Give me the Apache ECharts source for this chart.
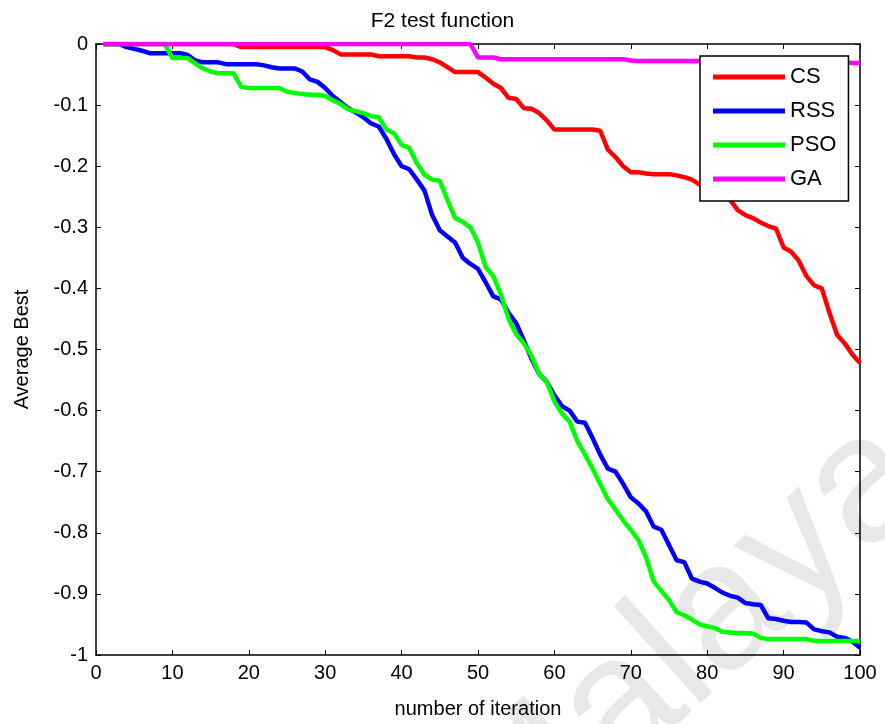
<!DOCTYPE html>
<html>
<head>
<meta charset="utf-8">
<script src="https://cdn.jsdelivr.net/npm/echarts@6/dist/echarts.min.js"></script>
<style>html,body{margin:0;padding:0;background:#fff;}#c{width:885px;height:724px;}</style>
</head>
<body>
<div id="c"></div>
<script>
const iterations = Array.from({length: 100}, (_, i) => i + 1);
const seriesNames = ['CS', 'RSS', 'PSO', 'GA'];
const xTicks = [0,10,20,30,40,50,60,70,80,90,100];
const yTicks = [0,-0.1,-0.2,-0.3,-0.4,-0.5,-0.6,-0.7,-0.8,-0.9,-1];

const csValues = [
0,0,0,0,0,0,0,0,0,0,
0,0,0,0,0,0,0,0,-0.005,-0.005,
-0.005,-0.005,-0.005,-0.005,-0.005,-0.005,-0.005,-0.005,-0.005,-0.005,
-0.01,-0.017,-0.017,-0.017,-0.017,-0.017,-0.02,-0.02,-0.02,-0.02,
-0.02,-0.022,-0.022,-0.025,-0.03,-0.038,-0.046,-0.046,-0.046,-0.046,
-0.055,-0.065,-0.072,-0.088,-0.09,-0.105,-0.106,-0.113,-0.125,-0.14,
-0.14,-0.14,-0.14,-0.14,-0.14,-0.142,-0.173,-0.185,-0.2,-0.21,
-0.21,-0.212,-0.213,-0.213,-0.213,-0.215,-0.218,-0.222,-0.23,-0.235,
-0.24,-0.245,-0.255,-0.272,-0.28,-0.285,-0.292,-0.298,-0.302,-0.333,
-0.34,-0.355,-0.38,-0.395,-0.4,-0.44,-0.476,-0.49,-0.508,-0.522
];
const rssValues = [
0,0,0,-0.005,-0.008,-0.011,-0.015,-0.015,-0.015,-0.015,
-0.015,-0.018,-0.027,-0.03,-0.03,-0.03,-0.033,-0.033,-0.033,-0.033,
-0.033,-0.035,-0.038,-0.04,-0.04,-0.04,-0.045,-0.058,-0.062,-0.072,
-0.085,-0.095,-0.105,-0.112,-0.12,-0.13,-0.135,-0.155,-0.18,-0.2,
-0.205,-0.222,-0.24,-0.28,-0.305,-0.315,-0.325,-0.35,-0.36,-0.368,
-0.39,-0.413,-0.418,-0.44,-0.457,-0.485,-0.515,-0.54,-0.553,-0.575,
-0.593,-0.6,-0.618,-0.62,-0.645,-0.672,-0.695,-0.7,-0.72,-0.742,
-0.752,-0.765,-0.79,-0.795,-0.82,-0.845,-0.848,-0.875,-0.88,-0.883,
-0.89,-0.898,-0.903,-0.906,-0.915,-0.917,-0.918,-0.94,-0.941,-0.944,
-0.946,-0.946,-0.947,-0.958,-0.961,-0.963,-0.97,-0.972,-0.978,-0.988
];
const psoValues = [
0,0,0,0,0,0,0,0,0,-0.023,
-0.023,-0.023,-0.032,-0.04,-0.045,-0.048,-0.048,-0.048,-0.07,-0.072,
-0.072,-0.072,-0.072,-0.072,-0.078,-0.08,-0.082,-0.083,-0.083,-0.085,
-0.092,-0.098,-0.107,-0.11,-0.113,-0.118,-0.12,-0.14,-0.146,-0.165,
-0.17,-0.195,-0.214,-0.222,-0.224,-0.255,-0.285,-0.291,-0.3,-0.325,
-0.365,-0.38,-0.41,-0.45,-0.475,-0.49,-0.51,-0.54,-0.553,-0.585,
-0.605,-0.618,-0.65,-0.672,-0.695,-0.72,-0.745,-0.762,-0.78,-0.795,
-0.812,-0.84,-0.88,-0.895,-0.91,-0.93,-0.935,-0.942,-0.95,-0.953,
-0.956,-0.962,-0.963,-0.964,-0.964,-0.965,-0.972,-0.974,-0.974,-0.974,
-0.974,-0.974,-0.974,-0.977,-0.977,-0.977,-0.977,-0.977,-0.977,-0.977
];
const gaValues = [
0,0,0,0,0,0,0,0,0,0,
0,0,0,0,0,0,0,0,0,0,
0,0,0,0,0,0,0,0,0,0,
0,0,0,0,0,0,0,0,0,0,
0,0,0,0,0,0,0,0,0,-0.022,
-0.022,-0.022,-0.025,-0.025,-0.025,-0.025,-0.025,-0.025,-0.025,-0.025,
-0.025,-0.025,-0.025,-0.025,-0.025,-0.025,-0.025,-0.025,-0.025,-0.027,
-0.028,-0.028,-0.028,-0.028,-0.028,-0.028,-0.028,-0.028,-0.028,-0.028,
-0.028,-0.028,-0.028,-0.028,-0.028,-0.028,-0.028,-0.028,-0.03,-0.03,
-0.03,-0.03,-0.03,-0.03,-0.03,-0.03,-0.03,-0.03,-0.031,-0.031
];
const colors = ['#ff0000', '#0000ff', '#00ff00', '#ff00ff'];
const allValues = [csValues, rssValues, psoValues, gaValues];

const FONT = '"Liberation Sans", Arial, sans-serif';
const chart = echarts.init(document.getElementById('c'), null, {renderer: 'canvas'});

const series = seriesNames.map((name, k) => ({
  name: name,
  type: 'line',
  xAxisIndex: 0, yAxisIndex: 0,
  data: iterations.map((it, i) => [it, allValues[k][i]]),
  showSymbol: false,
  symbol: 'none',
  lineStyle: {color: colors[k], width: 4.5},
  itemStyle: {color: colors[k]},
  animation: false,
  z: 3 + k
}));

const axisCommon = {min: 0, max: 100, interval: 10};

const WM = 180;
const wmAngle = 42 * Math.PI / 180;

chart.setOption({
  animation: false,
  backgroundColor: '#ffffff',
  title: {
    text: 'F2 test function',
    left: 'center', top: 6,
    textStyle: {fontFamily: FONT, fontSize: 21, fontWeight: 'normal', color: '#000'}
  },
  grid: {left: 96, right: 25, top: 44, bottom: 69, containLabel: false},
  legend: {
    data: seriesNames,
    orient: 'vertical',
    left: 700, top: 56,
    padding: [10, 12, 11, 13],
    itemGap: 12,
    itemWidth: 72, itemHeight: 5,
    itemTextGap: 10,
    icon: 'rect',
    borderColor: '#000', borderWidth: 1.5,
    backgroundColor: '#fff',
    textStyle: {fontFamily: FONT, fontSize: 22, color: '#000'},
    z: 20
  },
  xAxis: [
    {
      type: 'value', ...axisCommon,
      position: 'bottom',
      name: 'number of iteration', nameLocation: 'middle', nameGap: 44,
      nameTextStyle: {fontFamily: FONT, fontSize: 20, color: '#000'},
      axisLine: {onZero: false, lineStyle: {color: '#000', width: 1.5}},
      axisTick: {inside: true, length: 5, lineStyle: {color: '#000'}},
      axisLabel: {fontFamily: FONT, fontSize: 20, color: '#000', margin: 8,
        formatter: v => xTicks.includes(v) ? String(v) : ''},
      splitLine: {show: false}
    },
    {
      type: 'value', ...axisCommon,
      position: 'top',
      axisLine: {onZero: false, lineStyle: {color: '#000', width: 1.5}},
      axisTick: {inside: true, length: 5, lineStyle: {color: '#000'}},
      axisLabel: {show: false},
      splitLine: {show: false}
    }
  ],
  yAxis: [
    {
      type: 'value', min: -1, max: 0, interval: 0.1,
      position: 'left',
      name: 'Average Best', nameLocation: 'middle', nameGap: 64, nameRotate: 90,
      nameTextStyle: {fontFamily: FONT, fontSize: 20, color: '#000'},
      axisLine: {onZero: false, lineStyle: {color: '#000', width: 1.5}},
      axisTick: {inside: true, length: 5, lineStyle: {color: '#000'}},
      axisLabel: {fontFamily: FONT, fontSize: 20, color: '#000', margin: 8,
        formatter: v => {
          const r = Math.round(v * 10) / 10;
          const hit = yTicks.find(t => Math.abs(t - r) < 1e-9);
          return hit === undefined ? '' : String(hit);
        }},
      splitLine: {show: false}
    },
    {
      type: 'value', min: -1, max: 0, interval: 0.1,
      position: 'right',
      axisLine: {onZero: false, lineStyle: {color: '#000', width: 1.5}},
      axisTick: {inside: true, length: 5, lineStyle: {color: '#000'}},
      axisLabel: {show: false},
      splitLine: {show: false}
    }
  ],
  graphic: [
    {
      type: 'text',
      x: 533, y: 908,
      rotation: wmAngle,
      z: -10,
      silent: true,
      style: {text: 'Malaya', x: 0, y: 0, align: 'left', verticalAlign: 'bottom',
        fontFamily: FONT, fontSize: WM, fill: 'rgba(0,0,0,0.09)'}
    }
  ],
  series: series
});
</script>
</body>
</html>
